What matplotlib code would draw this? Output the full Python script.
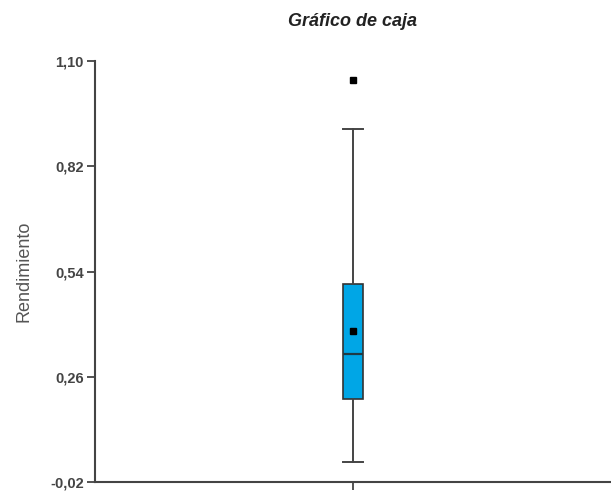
import matplotlib.pyplot as plt

# Summary values
q1 = 0.20
median = 0.32
q3 = 0.507
mean = 0.383
whisker_low = 0.033
whisker_high = 0.92
outliers = [1.05]

yticks = [-0.02, 0.26, 0.54, 0.82, 1.10]
ytick_labels = ["-0,02", "0,26", "0,54", "0,82", "1,10"]

plt.rcParams["font.family"] = ["Liberation Sans", "DejaVu Sans"]

fig = plt.figure(figsize=(6.11, 4.91), dpi=100)
ax = fig.add_axes([95 / 611, 9 / 491, 1 - 95 / 611, 421 / 491])

stats = [{
    "med": median, "q1": q1, "q3": q3, "mean": mean,
    "whislo": whisker_low, "whishi": whisker_high,
    "fliers": outliers, "label": "",
}]
ax.bxp(
    stats, positions=[0], widths=0.04, patch_artist=True,
    showmeans=True, showfliers=True,
    boxprops=dict(facecolor="#00a6e6", edgecolor="#333333", linewidth=1.2),
    medianprops=dict(color="#1f3a44", linewidth=1.6),
    whiskerprops=dict(color="#444444", linewidth=1.4),
    capprops=dict(color="#444444", linewidth=1.4),
    capwidths=0.04,
    meanprops=dict(marker="s", markerfacecolor="black", markeredgecolor="black", markersize=4),
    flierprops=dict(marker="s", markerfacecolor="black", markeredgecolor="black", markersize=4),
)

ax.set_xlim(-0.5, 0.5)
ax.set_ylim(-0.02, 1.10)
ax.set_yticks(yticks)
ax.set_yticklabels(ytick_labels)
ax.set_xticks([0])
ax.set_xticklabels([""])

for s in ["top", "right"]:
    ax.spines[s].set_visible(False)
for s in ["left", "bottom"]:
    ax.spines[s].set_color("#444444")
    ax.spines[s].set_linewidth(1.5)
ax.tick_params(axis="both", direction="out", length=6, width=1.3, color="#444444",
               labelsize=10.5, labelcolor="#444444", pad=2)
for lbl in ax.get_yticklabels():
    lbl.set_fontweight("bold")

ax.set_ylabel("Rendimiento", fontsize=13, color="#555555", labelpad=13)
fig.text(353 / 611, 1 - 21 / 491, "Gráfico de caja", ha="center", va="center",
         fontsize=13, fontstyle="italic", fontweight="bold", color="#222222")

plt.savefig("out.png", dpi=100)
